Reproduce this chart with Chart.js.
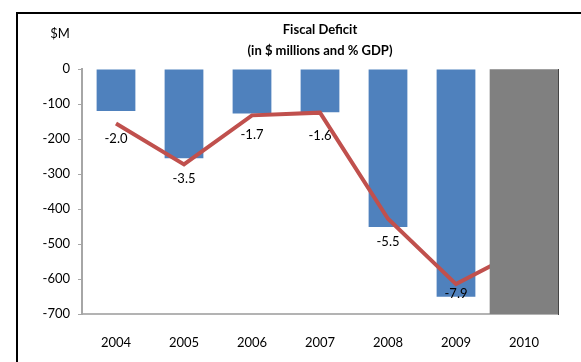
<!DOCTYPE html>
<html>
<head>
<meta charset="utf-8">
<script src="https://cdn.jsdelivr.net/npm/chart.js@4.4.0/dist/chart.umd.min.js"></script>
<style>
 html, body { margin: 0; padding: 0; background: #fff; overflow: hidden; }
 #frame { position: absolute; left: 16px; top: 12px; width: 700px; height: 500px; border: 2px solid #000; }
 #fiscalChart { position: absolute; left: 0; top: 0; }
</style>
</head>
<body>
<div id="frame"></div>
<canvas id="fiscalChart" width="581" height="362"></canvas>
<script>
var years = ["2004", "2005", "2006", "2007", "2008", "2009", "2010"];
var deficitMillions = [-120, -255, -127, -123, -451, -651, null];
var deficitPctGdp = [-2.0, -3.5, -1.7, -1.6, -5.5, -7.9, -6.6];
// 2010 is a projection, shaded out over the full axis depth
var projectionShade = [null, null, null, null, null, null, -700];

// how far below each line point its % label sits
var labelDrop = [15, 14, 19, 23, 23, 10, 0];

var textFont = "Lato, 'Liberation Sans', sans-serif";

var extraText = {
 id: "extraText",
 afterDatasetsDraw: function (chart) {
  var ctx = chart.ctx;
  var meta = chart.getDatasetMeta(1);
  ctx.save();
  ctx.font = "13px " + textFont;
  ctx.fillStyle = "#000";
  ctx.textAlign = "center";
  ctx.textBaseline = "middle";
  meta.data.forEach(function (pt, i) {
   if (projectionShade[i] !== null) return;
   ctx.fillText(deficitPctGdp[i].toFixed(1), pt.x, pt.y + labelDrop[i]);
  });
  ctx.fillText("$M", 60, 34);
  ctx.restore();
 },
};

new Chart(document.querySelector("#fiscalChart"), {
 type: "bar",
 data: {
  labels: years,
  datasets: [
   {
    label: "Projection",
    data: projectionShade,
    backgroundColor: "#808080",
    grouped: false,
    barPercentage: 1,
    categoryPercentage: 1,
    yAxisID: "y",
    order: 0,
   },
   {
    type: "line",
    label: "% GDP",
    data: deficitPctGdp,
    borderColor: "#C0504D",
    borderWidth: 4,
    pointRadius: 0,
    tension: 0,
    yAxisID: "y2",
    order: 1,
   },
   {
    label: "$ millions",
    data: deficitMillions,
    backgroundColor: "#4F81BD",
    grouped: false,
    barPercentage: 0.57,
    categoryPercentage: 1,
    yAxisID: "y",
    order: 2,
   },
  ],
 },
 options: {
  responsive: false,
  animation: false,
  layout: { padding: 0 },
  plugins: {
   legend: { display: false },
   tooltip: { enabled: false },
   title: {
    display: true,
    fullSize: false,
    text: ["Fiscal Deficit", "(in $ millions and % GDP)"],
    color: "#000",
    font: { family: textFont, size: 13, weight: "bold", lineHeight: 1.62 },
    padding: { top: 19, bottom: 8 },
   },
  },
  scales: {
   x: {
    grid: { drawOnChartArea: false, drawTicks: false },
    border: { display: true, color: "#B3B3B3", width: 2 },
    ticks: { color: "#000", padding: 21, font: { family: textFont, size: 13 } },
    afterFit: function (s) { s.height = 48; },
   },
   y: {
    min: -700,
    max: 0,
    grid: { drawOnChartArea: false, drawTicks: true, tickLength: 4, color: "#A6A6A6" },
    border: { display: true, color: "#A6A6A6", width: 2 },
    ticks: { stepSize: 100, color: "#000", padding: 8, font: { family: textFont, size: 13 } },
    afterFit: function (s) { s.width = 82; },
   },
   y2: {
    position: "right",
    min: -9,
    max: 0,
    grid: { drawOnChartArea: false, drawTicks: false },
    border: { display: true, color: "#444", width: 1, dash: [1, 1] },
    ticks: { display: false },
    afterFit: function (s) { s.width = 23; },
   },
  },
 },
 plugins: [extraText],
});
</script>
</body>
</html>
